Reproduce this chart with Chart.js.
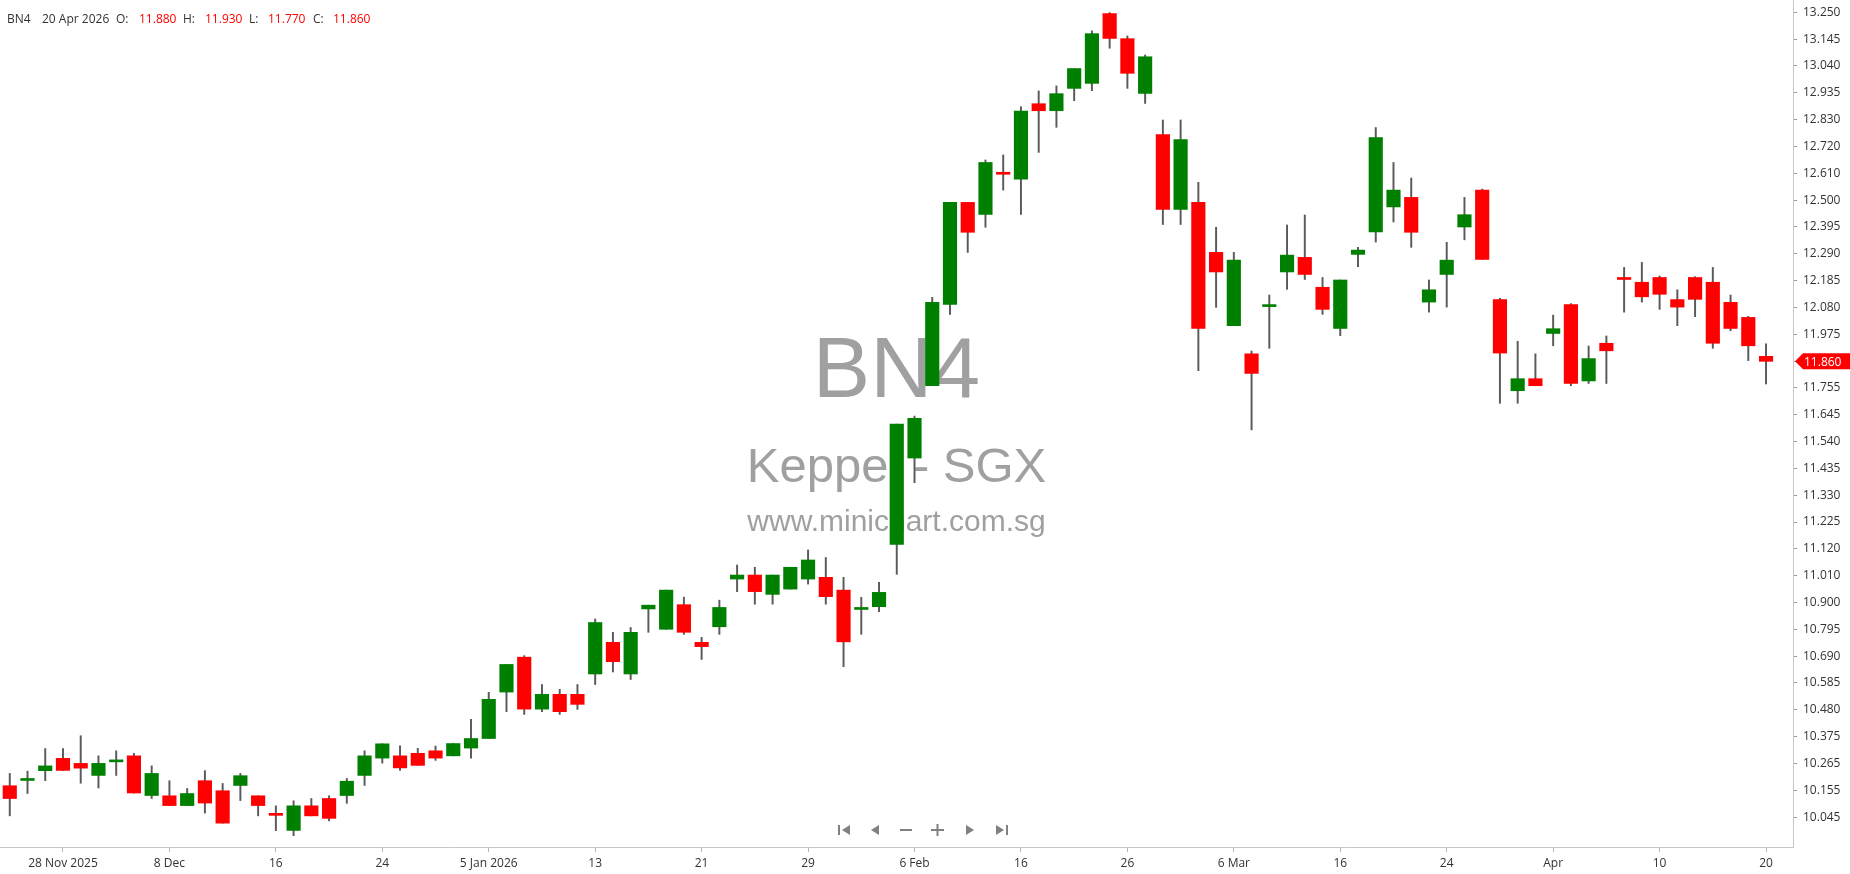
<!DOCTYPE html>
<html lang="en">
<head>
    <meta charset="UTF-8">
    <title>BN4 - Keppel - SGX</title>
    <script src="https://cdn.jsdelivr.net/npm/chart.js"></script>
    <style>
        body {
            margin: 0;
            padding: 0;
            background: #ffffff;
        }
        .chart-box {
            width: 1850px;
            height: 874px;
            position: relative;
        }
    </style>
</head>
<body>
    <div class="chart-box">
        <canvas id="bn4Chart"></canvas>
    </div>

    <script>
        // trading days shown on the chart
        const dates = [
            '2025-11-25', '2025-11-26', '2025-11-27', '2025-11-28',
            '2025-12-01', '2025-12-02', '2025-12-03', '2025-12-04', '2025-12-05',
            '2025-12-08', '2025-12-09', '2025-12-10', '2025-12-11', '2025-12-12',
            '2025-12-15', '2025-12-16', '2025-12-17', '2025-12-18', '2025-12-19',
            '2025-12-22', '2025-12-23', '2025-12-24', '2025-12-26',
            '2025-12-29', '2025-12-30', '2025-12-31',
            '2026-01-02', '2026-01-05', '2026-01-06', '2026-01-07', '2026-01-08', '2026-01-09',
            '2026-01-12', '2026-01-13', '2026-01-14', '2026-01-15', '2026-01-16',
            '2026-01-19', '2026-01-20', '2026-01-21', '2026-01-22', '2026-01-23',
            '2026-01-26', '2026-01-27', '2026-01-28', '2026-01-29', '2026-01-30',
            '2026-02-02', '2026-02-03', '2026-02-04', '2026-02-05', '2026-02-06',
            '2026-02-09', '2026-02-10', '2026-02-11', '2026-02-12', '2026-02-13',
            '2026-02-16', '2026-02-19', '2026-02-20',
            '2026-02-23', '2026-02-24', '2026-02-25', '2026-02-26', '2026-02-27',
            '2026-03-02', '2026-03-03', '2026-03-04', '2026-03-05', '2026-03-06',
            '2026-03-09', '2026-03-10', '2026-03-11', '2026-03-12', '2026-03-13',
            '2026-03-16', '2026-03-17', '2026-03-18', '2026-03-19', '2026-03-20',
            '2026-03-23', '2026-03-24', '2026-03-25', '2026-03-26', '2026-03-27',
            '2026-03-30', '2026-03-31', '2026-04-01', '2026-04-02',
            '2026-04-06', '2026-04-07', '2026-04-08', '2026-04-09', '2026-04-10',
            '2026-04-13', '2026-04-14', '2026-04-15', '2026-04-16', '2026-04-17',
            '2026-04-20'
        ];

        const opens = [
            10.170, 10.191, 10.230, 10.279, 10.259, 10.211, 10.265, 10.289, 10.131, 10.130,
            10.091, 10.190, 10.150, 10.171, 10.130, 10.060, 9.992, 10.090, 10.119, 10.131,
            10.211, 10.280, 10.289, 10.299, 10.309, 10.289, 10.320, 10.358, 10.543, 10.682,
            10.475, 10.534, 10.534, 10.615, 10.741, 10.615, 10.874, 10.793, 10.891, 10.741,
            10.803, 10.993, 11.009, 10.932, 10.953, 10.993, 11.000, 10.949, 10.872, 10.883,
            11.131, 11.475, 11.763, 12.087, 12.493, 12.445, 12.613, 12.585, 12.886, 12.858,
            12.947, 12.967, 13.245, 13.145, 12.927, 12.763, 12.465, 12.493, 12.294, 12.002,
            11.890, 12.078, 12.216, 12.274, 12.155, 11.991, 12.286, 12.375, 12.475, 12.513,
            12.096, 12.206, 12.395, 12.542, 12.106, 11.743, 11.791, 11.971, 12.086, 11.782,
            11.932, 12.194, 12.175, 12.194, 12.106, 12.194, 12.175, 12.095, 12.035, 11.880
        ];
        const highs = [
            10.219, 10.228, 10.318, 10.318, 10.369, 10.289, 10.309, 10.299, 10.249, 10.190,
            10.159, 10.230, 10.179, 10.219, 10.130, 10.090, 10.110, 10.119, 10.130, 10.199,
            10.309, 10.337, 10.329, 10.319, 10.328, 10.338, 10.434, 10.542, 10.653, 10.688,
            10.573, 10.554, 10.573, 10.834, 10.781, 10.800, 10.889, 10.949, 10.921, 10.761,
            10.909, 11.049, 11.040, 11.009, 11.040, 11.109, 11.079, 11.000, 10.920, 10.980,
            11.610, 11.642, 12.115, 12.493, 12.493, 12.662, 12.682, 12.874, 12.937, 12.957,
            13.026, 13.176, 13.249, 13.156, 13.080, 12.821, 12.821, 12.573, 12.394, 12.294,
            11.901, 12.124, 12.403, 12.443, 12.194, 12.184, 12.314, 12.791, 12.652, 12.590,
            12.184, 12.334, 12.513, 12.546, 12.111, 11.940, 11.890, 12.044, 12.090, 11.921,
            11.961, 12.234, 12.254, 12.200, 12.145, 12.197, 12.234, 12.124, 12.039, 11.930
        ];
        const lows = [
            10.050, 10.139, 10.190, 10.231, 10.180, 10.161, 10.211, 10.141, 10.119, 10.091,
            10.091, 10.061, 10.021, 10.111, 10.050, 9.991, 9.971, 10.050, 10.030, 10.100,
            10.171, 10.260, 10.231, 10.251, 10.271, 10.289, 10.280, 10.358, 10.465, 10.454,
            10.465, 10.454, 10.474, 10.573, 10.623, 10.593, 10.781, 10.793, 10.773, 10.673,
            10.773, 10.943, 10.893, 10.893, 10.953, 10.973, 10.893, 10.644, 10.773, 10.863,
            11.012, 11.377, 11.763, 12.047, 12.294, 12.394, 12.542, 12.445, 12.692, 12.792,
            12.898, 12.938, 13.107, 12.947, 12.887, 12.405, 12.405, 11.823, 12.075, 12.002,
            11.587, 11.912, 12.147, 12.186, 12.047, 11.962, 12.237, 12.335, 12.415, 12.314,
            12.056, 12.076, 12.344, 12.266, 11.693, 11.693, 11.763, 11.922, 11.763, 11.772,
            11.772, 12.056, 12.096, 12.067, 12.002, 12.038, 11.912, 11.982, 11.863, 11.770
        ];
        const closes = [
            10.119, 10.198, 10.249, 10.231, 10.240, 10.259, 10.271, 10.141, 10.219, 10.091,
            10.139, 10.101, 10.021, 10.210, 10.091, 10.052, 10.090, 10.050, 10.040, 10.188,
            10.289, 10.337, 10.241, 10.251, 10.280, 10.338, 10.358, 10.514, 10.653, 10.475,
            10.534, 10.465, 10.494, 10.820, 10.664, 10.781, 10.889, 10.949, 10.781, 10.724,
            10.880, 11.009, 10.943, 11.009, 11.040, 11.069, 10.923, 10.743, 10.880, 10.940,
            11.610, 11.633, 12.095, 12.493, 12.374, 12.652, 12.605, 12.857, 12.858, 12.926,
            13.026, 13.165, 13.146, 13.007, 13.073, 12.465, 12.743, 11.991, 12.216, 12.263,
            11.812, 12.084, 12.283, 12.206, 12.067, 12.184, 12.303, 12.751, 12.542, 12.374,
            12.145, 12.263, 12.444, 12.266, 11.893, 11.791, 11.763, 11.990, 11.772, 11.871,
            11.902, 12.186, 12.117, 12.127, 12.076, 12.107, 11.932, 11.991, 11.922, 11.860
        ];

        const xTickDates = [
            '2025-11-28', '2025-12-08', '2025-12-16', '2025-12-24', '2026-01-05', '2026-01-13',
            '2026-01-21', '2026-01-29', '2026-02-06', '2026-02-16', '2026-02-26', '2026-03-06',
            '2026-03-16', '2026-03-24', '2026-04-01', '2026-04-10', '2026-04-20'
        ];
        const xTickLabels = [
            '28 Nov 2025', '8 Dec', '16', '24', '5 Jan 2026', '13',
            '21', '29', '6 Feb', '16', '26', '6 Mar',
            '16', '24', 'Apr', '10', '20'
        ];
        const yTickLabels = [
            '10.045', '10.155', '10.265', '10.375', '10.480', '10.585', '10.690', '10.795',
            '10.900', '11.010', '11.120', '11.225', '11.330', '11.435', '11.540', '11.645',
            '11.755', '11.860', '11.975', '12.080', '12.185', '12.290', '12.395', '12.500',
            '12.610', '12.720', '12.830', '12.935', '13.040', '13.145', '13.250'
        ];

        const FONT = "'Open Sans', 'Noto Sans', sans-serif";
        const WM_FONT = "'Liberation Sans', Arial, sans-serif";
        const UP = '#008000';
        const DOWN = '#ff0000';
        const MONTHS = ['Jan', 'Feb', 'Mar', 'Apr', 'May', 'Jun', 'Jul', 'Aug', 'Sep', 'Oct', 'Nov', 'Dec'];

        const yFirst = parseFloat(yTickLabels[0]);
        const yStep = (parseFloat(yTickLabels[yTickLabels.length - 1]) - yFirst) / (yTickLabels.length - 1);

        function longDate(d) {
            const p = d.split('-');
            return parseInt(p[2], 10) + ' ' + MONTHS[parseInt(p[1], 10) - 1] + ' ' + p[0];
        }

        // watermark text sits under the candles
        const watermark = {
            id: 'watermark',
            beforeDatasetsDraw(chart) {
                const { ctx, chartArea } = chart;
                const cx = (chartArea.left + chartArea.right) / 2;
                ctx.save();
                ctx.fillStyle = '#a0a0a0';
                ctx.textAlign = 'center';
                ctx.textBaseline = 'alphabetic';
                ctx.font = '86px ' + WM_FONT;
                ctx.fillText('BN4', cx, 397);
                ctx.font = '49px ' + WM_FONT;
                ctx.fillText('Keppel - SGX', cx, 482);
                ctx.font = '30px ' + WM_FONT;
                ctx.fillText('www.minichart.com.sg', cx, 531);
                ctx.restore();
            }
        };

        // header line, navigation buttons and last price tag
        const overlay = {
            id: 'overlay',
            afterDraw(chart) {
                const ctx = chart.ctx;
                const last = dates.length - 1;
                ctx.save();
                ctx.font = '12px ' + FONT;
                ctx.textBaseline = 'alphabetic';
                ctx.textAlign = 'left';
                const head = [
                    ['BN4', '#333333', 7],
                    [longDate(dates[last]), '#333333', 42],
                    ['O:', '#333333', 116],
                    [opens[last].toFixed(3), DOWN, 139],
                    ['H:', '#333333', 183],
                    [highs[last].toFixed(3), DOWN, 205],
                    ['L:', '#333333', 249],
                    [lows[last].toFixed(3), DOWN, 268],
                    ['C:', '#333333', 313],
                    [closes[last].toFixed(3), DOWN, 333]
                ];
                head.forEach(h => {
                    ctx.fillStyle = h[1];
                    ctx.fillText(h[0], h[2], 23);
                });

                // nav buttons
                const ny = 830;
                ctx.fillStyle = '#808080';
                ctx.fillRect(838, ny - 5, 2, 10);
                tri(ctx, 850, ny, -1);
                tri(ctx, 879, ny, -1);
                ctx.fillRect(900, ny - 1, 12, 2);
                ctx.fillRect(931, ny - 1, 13, 2);
                ctx.fillRect(936.5, ny - 6, 2, 12);
                tri(ctx, 966, ny, 1);
                tri(ctx, 996, ny, 1);
                ctx.fillRect(1006, ny - 5, 2, 10);

                // last price tag
                const yAxis = chart.scales.y;
                const py = yAxis.getPixelForValue(closes[last]);
                const x0 = yAxis.left + 2;
                ctx.fillStyle = DOWN;
                ctx.beginPath();
                ctx.moveTo(x0, py);
                ctx.lineTo(x0 + 8, py - 8);
                ctx.lineTo(chart.width, py - 8);
                ctx.lineTo(chart.width, py + 8);
                ctx.lineTo(x0 + 8, py + 8);
                ctx.closePath();
                ctx.fill();
                ctx.fillStyle = '#ffffff';
                ctx.textBaseline = 'middle';
                ctx.fillText(closes[last].toFixed(3), x0 + 9, py + 1);
                ctx.restore();
            }
        };

        function tri(ctx, x, y, dir) {
            // dir -1 points left, 1 points right; x is the flat side
            ctx.beginPath();
            ctx.moveTo(x, y - 5);
            ctx.lineTo(x, y + 5);
            ctx.lineTo(x + dir * 8, y);
            ctx.closePath();
            ctx.fill();
        }

        document.addEventListener('DOMContentLoaded', function() {
            const ctx = document.getElementById('bn4Chart').getContext('2d');
            const wickData = dates.map((d, i) => ({ x: i, y: [lows[i], highs[i]] }));
            const bodyData = dates.map((d, i) => ({ x: i, y: [opens[i], closes[i]] }));
            const bodyColors = dates.map((d, i) => closes[i] >= opens[i] ? UP : DOWN);

            new Chart(ctx, {
                type: 'bar',
                data: {
                    datasets: [
                        {
                            label: 'range',
                            data: wickData,
                            backgroundColor: '#5a5a5a',
                            barThickness: 1.3,
                            grouped: false,
                            order: 2
                        },
                        {
                            label: 'BN4',
                            data: bodyData,
                            backgroundColor: bodyColors,
                            borderWidth: 0,
                            barThickness: 13.5,
                            minBarLength: 2,
                            grouped: false,
                            order: 1
                        }
                    ]
                },
                options: {
                    responsive: true,
                    maintainAspectRatio: false,
                    animation: false,
                    layout: { padding: 0 },
                    plugins: {
                        legend: { display: false },
                        tooltip: { enabled: false }
                    },
                    scales: {
                        x: {
                            type: 'linear',
                            position: 'bottom',
                            min: -0.55,
                            max: 100.52,
                            offset: false,
                            bounds: 'data',
                            grid: {
                                offset: false,
                                drawOnChartArea: false,
                                drawTicks: true,
                                tickLength: 5,
                                tickColor: '#b4b4b4'
                            },
                            border: { color: '#c8c8c8' },
                            afterBuildTicks(axis) {
                                axis.ticks = xTickDates.map(d => ({ value: dates.indexOf(d) }));
                            },
                            ticks: {
                                autoSkip: false,
                                maxRotation: 0,
                                padding: 4,
                                color: '#333333',
                                font: { size: 12, family: FONT },
                                callback: (v, i) => xTickLabels[i]
                            },
                            afterFit(axis) {
                                axis.height = 27;
                                axis.paddingLeft = 0;
                                axis.paddingRight = 0;
                            }
                        },
                        y: {
                            position: 'right',
                            min: 9.926,
                            max: 13.299,
                            bounds: 'data',
                            grid: {
                                drawOnChartArea: false,
                                drawTicks: true,
                                tickLength: 4,
                                tickColor: '#9a9a9a'
                            },
                            border: { color: '#c8c8c8' },
                            afterBuildTicks(axis) {
                                axis.ticks = yTickLabels.map((t, k) => ({ value: yFirst + k * yStep }));
                            },
                            ticks: {
                                autoSkip: false,
                                padding: 6,
                                color: '#333333',
                                font: { size: 12, family: FONT },
                                callback: (v, i) => yTickLabels[i]
                            },
                            afterFit(axis) {
                                axis.width = 57;
                                axis.paddingTop = 0;
                                axis.paddingBottom = 0;
                            }
                        }
                    }
                },
                plugins: [watermark, overlay]
            });
        });
    </script>
</body>
</html>
